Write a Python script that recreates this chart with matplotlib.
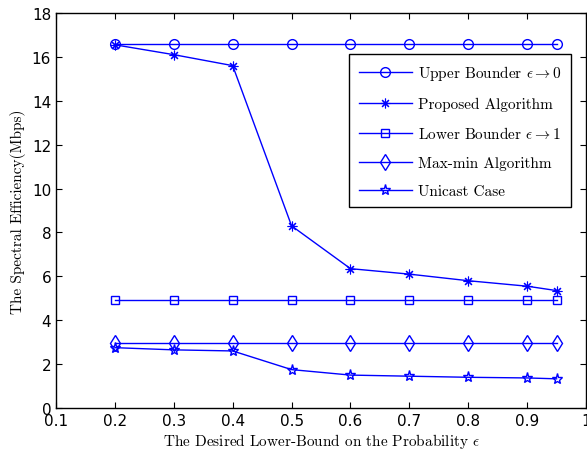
import numpy as np
import matplotlib.pyplot as plt

plt.rcParams['mathtext.fontset'] = 'cm'
plt.rcParams['axes.unicode_minus'] = False

# data
eps = [0.2, 0.3, 0.4, 0.5, 0.6, 0.7, 0.8, 0.9, 0.95]
upper = [16.6, 16.6, 16.6, 16.6, 16.6, 16.6, 16.6, 16.6, 16.6]
proposed = [16.55, 16.1, 15.6, 8.3, 6.35, 6.1, 5.8, 5.55, 5.35]
lower = [4.9, 4.9, 4.9, 4.9, 4.9, 4.9, 4.9, 4.9, 4.9]
maxmin = [2.95, 2.95, 2.95, 2.95, 2.95, 2.95, 2.95, 2.95, 2.95]
unicast = [2.75, 2.65, 2.6, 1.75, 1.5, 1.45, 1.4, 1.37, 1.33]

labels = [r'Upper Bounder $\epsilon\rightarrow 0$', 'Proposed Algorithm',
          r'Lower Bounder $\epsilon\rightarrow 1$', 'Max-min Algorithm', 'Unicast Case']

fig = plt.figure(figsize=(5.87, 4.52), dpi=100)
ax = fig.add_axes([0.0954, 0.0951, 0.903, 0.874])

ax.plot(eps, upper, color='blue', lw=1, marker='o', ms=7, mfc='none', mew=1, label=labels[0])
ax.plot(eps, proposed, color='blue', lw=1, marker=(8, 2, 0), ms=7, mew=0.8, label=labels[1])
ax.plot(eps, lower, color='blue', lw=1, marker='s', ms=5.5, mfc='none', mew=1, label=labels[2])
ax.plot(eps, maxmin, color='blue', lw=1, marker='d', ms=8, mfc='none', mew=1, label=labels[3])
ax.plot(eps, unicast, color='blue', lw=1, marker='*', ms=8, mfc='none', mew=1, label=labels[4])

ax.set_xlim(0.1, 1)
ax.set_ylim(0, 18)
ax.set_xticks(np.arange(0.1, 1.01, 0.1))
ax.set_xticklabels(['0.1', '0.2', '0.3', '0.4', '0.5', '0.6', '0.7', '0.8', '0.9', '1'])
ax.set_yticks(range(0, 19, 2))
ax.tick_params(direction='in', top=True, right=True, labelsize=11, length=4)
for sp in ax.spines.values():
    sp.set_linewidth(1)

ax.set_xlabel(r'The Desired Lower-Bound on the Probability $\epsilon$', fontfamily='cmr10', fontsize=11, labelpad=2)
ax.set_ylabel('The Spectral Efficiency(Mbps)', fontfamily='cmr10', fontsize=11, labelpad=4)

leg = ax.legend(loc='upper right', bbox_to_anchor=(0.972, 0.896), borderaxespad=0,
                prop={'family': 'cmr10', 'size': 11},
                fancybox=False, edgecolor='black', framealpha=1, borderpad=0.6,
                labelspacing=0.95, handlelength=3.5, handletextpad=0.4)
leg.get_frame().set_linewidth(1)

fig.savefig('out.png', dpi=100)
